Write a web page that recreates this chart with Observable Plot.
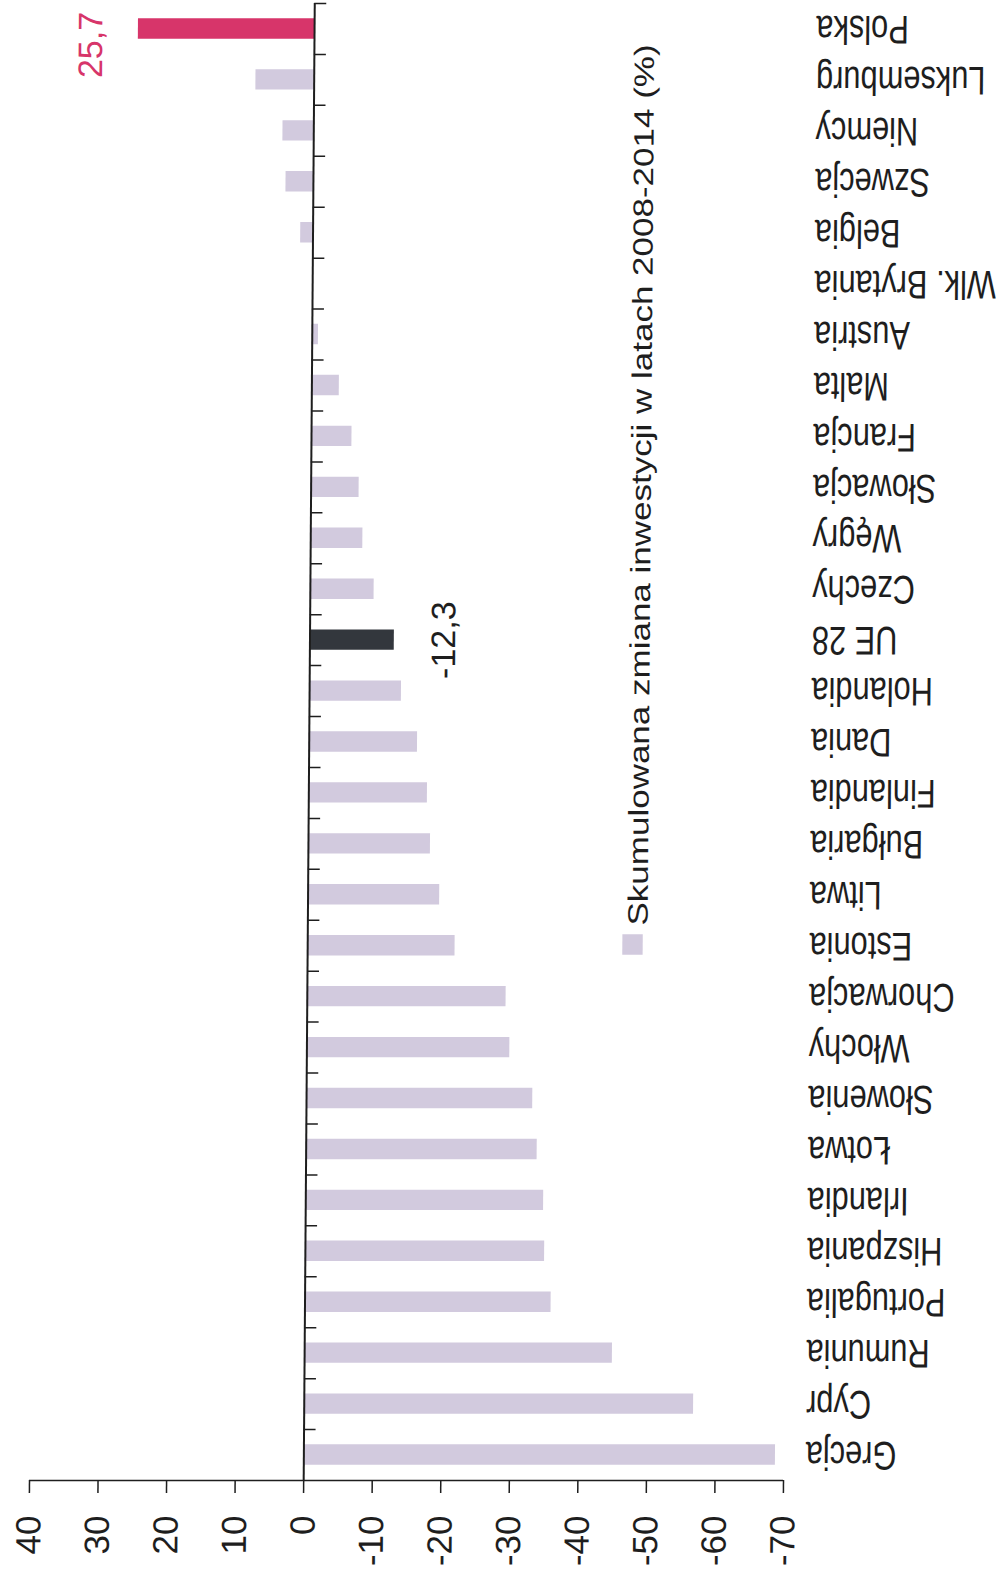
<!DOCTYPE html>
<html>
<head>
<meta charset="utf-8">
<script src="https://cdn.jsdelivr.net/npm/d3@7"></script>
<script src="https://cdn.jsdelivr.net/npm/@observablehq/plot@0.6"></script>
<style>
  html, body { margin: 0; padding: 0; background: #fff; }
  #chart svg { display: block; }
</style>
</head>
<body>
<div id="chart"></div>
<script>
const countries = ["Polska", "Luksemburg", "Niemcy", "Szwecja", "Belgia", "Wlk. Brytania", "Austria", "Malta", "Francja", "Słowacja", "Węgry", "Czechy", "UE 28", "Holandia", "Dania", "Finlandia", "Bułgaria", "Litwa", "Estonia", "Chorwacja", "Włochy", "Słowenia", "Łotwa", "Irlandia", "Hiszpania", "Portugalia", "Rumunia", "Cypr", "Grecja"];
const values = [25.7, 8.5, 4.5, 4.0, 1.8, 0, -0.9, -4.0, -5.9, -7.0, -7.6, -9.3, -12.3, -13.4, -15.8, -17.3, -17.8, -19.2, -21.5, -29.0, -29.6, -33.0, -33.7, -34.7, -34.9, -35.9, -44.9, -56.8, -68.8];
const xTicks = [40, 30, 20, 10, 0, -10, -20, -30, -40, -50, -60, -70];
const legendLabel = "Skumulowana zmiana inwestycji w latach 2008-2014 (%)";
const labelledTop = ["Polska"];
const labelledBottom = ["UE 28"];

const data = countries.map((c, i) => ({country: c, value: values[i]}));
const COL_BAR = "#d2cade", COL_PL = "#d7356a", COL_EU = "#33373d", COL_INK = "#1e1e1e";
const barColor = c => c === "Polska" ? COL_PL : c === "UE 28" ? COL_EU : COL_BAR;
const fmt = v => String(v).replace(".", ",");

const W = 996, H = 1582, mT = 3, mB = 102, mL = 29, mR = 213;
const step = (H - mT - mB) / countries.length;
const pxPerUnit = (W - mL - mR) / 110;

const plot = Plot.plot({
  width: W, height: H,
  marginLeft: mL, marginRight: mR, marginTop: mT, marginBottom: mB,
  style: {fontFamily: "'Liberation Sans', Arial, sans-serif", background: "#fff", color: COL_INK, overflow: "visible"},
  x: {domain: [40, -70]},
  y: {domain: countries, paddingInner: 0.6, paddingOuter: 0.3, round: false, axis: null},
  color: {type: "identity"},
  marks: [
    Plot.barX(data, {x: "value", y: "country", fill: d => barColor(d.country)}),
    Plot.ruleX([0], {stroke: COL_INK, strokeWidth: 2}),
    Plot.ruleY(countries, {y: d => d, x1: 0, x2: -12 / pxPerUnit, dy: -step / 2, stroke: COL_INK, strokeWidth: 1.5}),
    Plot.ruleY([countries[countries.length - 1]], {y: d => d, dy: step / 2, stroke: COL_INK, strokeWidth: 1.5}),
    Plot.axisX(xTicks, {anchor: "bottom", label: null, tickSize: 13, tickPadding: 22, tickRotate: -90, fontSize: 35, tickFormat: d => String(d), strokeWidth: 1.5, fill: COL_INK, stroke: COL_INK}),
    Plot.text(countries, {y: d => d, text: d => d, frameAnchor: "right", dx: 22, rotate: 180, textAnchor: "end", fontSize: 40, fill: COL_INK}),
    Plot.text(data.filter(d => labelledTop.includes(d.country)), {x: "value", y: "country", text: d => fmt(d.value), rotate: -90, dx: -47, dy: 16, fontSize: 34, fill: COL_PL}),
    Plot.text(data.filter(d => labelledBottom.includes(d.country)), {x: "value", y: "country", text: d => fmt(d.value), rotate: -90, dx: 50, dy: 0, fontSize: 34, fill: COL_INK}),
    Plot.text([legendLabel], {text: d => d, frameAnchor: "top-left", dx: 623 - mL, dy: 925 - mT, rotate: -90, textAnchor: "start", fontSize: 35, fill: COL_INK}),
    Plot.dot([legendLabel], {frameAnchor: "top-left", dx: 628 - mL, dy: 944 - mT, symbol: "square", r: 11.5, fill: COL_BAR, stroke: null})
  ]
});

// Condense the glyphs the way the scanned original shows them
d3.select(plot).selectAll("text").each(function() {
  const t = this.textContent;
  const tr = this.getAttribute("transform") || "";
  if (countries.includes(t) && tr.includes("rotate(180")) {
    this.setAttribute("transform", tr + " scale(0.77,1)");
  } else if (t === legendLabel) {
    this.setAttribute("transform", tr + " scale(1,0.8)");
  }
});

// The scanned original is slightly sheared: its zero line leans to the right at the top
const shear = 0.0075, baseY = H - mB;
const wrap = document.createElementNS("http://www.w3.org/2000/svg", "g");
wrap.setAttribute("transform", `matrix(1,0,${-shear},1,${shear * baseY},0)`);
Array.from(plot.childNodes).forEach(n => { if (n.nodeName.toLowerCase() !== "style") wrap.appendChild(n); });
plot.appendChild(wrap);

document.getElementById("chart").appendChild(plot);
</script>
</body>
</html>
